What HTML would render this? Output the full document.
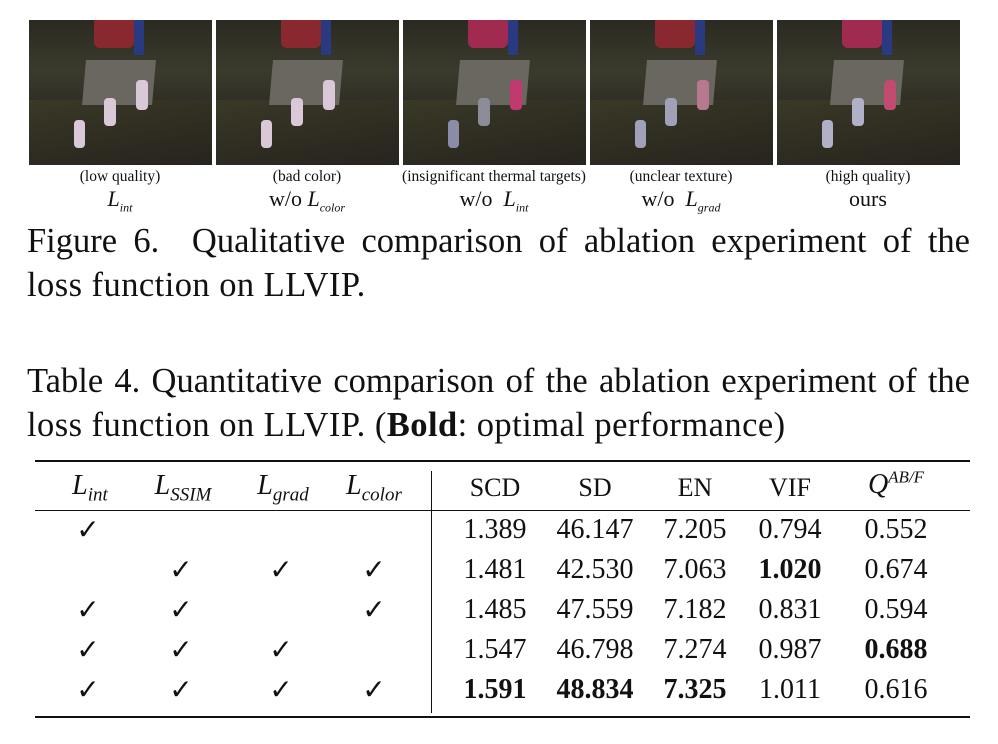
<!DOCTYPE html>
<html><head><meta charset="utf-8"><style>
body{margin:0;width:998px;height:744px;background:#fff;position:relative;overflow:hidden;font-family:"Liberation Serif",serif;color:#111}
.img{position:absolute;top:20px;width:183px;height:145px;background:linear-gradient(180deg,#2a2a22 0%,#3a3a2c 35%,#2f2d24 60%,#1e1e1a 100%);overflow:hidden}
.img .r{position:absolute;left:65px;top:0;width:40px;height:28px;background:#8a2830;border-radius:0 0 6px 6px}
.img .b{position:absolute;left:105px;top:0;width:10px;height:35px;background:#2a3a80}
.img .w{position:absolute;left:55px;top:40px;width:70px;height:45px;background:#6a6660;transform:skewX(-5deg)}
.img .p{position:absolute;background:#d8c8d8;border-radius:4px}
.img .s{position:absolute;left:0;top:80px;width:183px;height:65px;background:linear-gradient(170deg,#3a3826,#26241e)}
.c{position:absolute;top:168px;font-size:15.5px;text-align:center;width:200px;line-height:18px}
.c2{position:absolute;top:186px;font-size:22px;text-align:center;width:200px;line-height:26px}
.c2 i sub{font-size:12px}
.t{position:absolute;left:27px;font-size:34.5px;width:943px;text-align:justify;text-align-last:justify;line-height:44px;white-space:nowrap}
.t.l{text-align-last:left;letter-spacing:0.45px}
.cell{position:absolute;font-size:28px;transform:translateX(-50%);white-space:nowrap}
.ck{font-size:28px}
.hl{position:absolute;left:35px;width:935px;background:#111}
</style></head><body>
<div class="img" style="left:29px"><div class="s"></div><div class="r"></div><div class="b"></div><div class="w"></div><div class="p" style="left:107px;top:60px;width:12px;height:30px"></div><div class="p" style="left:75px;top:78px;width:12px;height:28px"></div><div class="p" style="left:45px;top:100px;width:11px;height:28px"></div></div>
<div class="img" style="left:216px"><div class="s"></div><div class="r"></div><div class="b"></div><div class="w"></div><div class="p" style="left:107px;top:60px;width:12px;height:30px"></div><div class="p" style="left:75px;top:78px;width:12px;height:28px"></div><div class="p" style="left:45px;top:100px;width:11px;height:28px"></div></div>
<div class="img" style="left:403px"><div class="s"></div><div class="r" style="background:#a02a50"></div><div class="b"></div><div class="w"></div><div class="p" style="left:107px;top:60px;width:12px;height:30px;background:#c03a70"></div><div class="p" style="left:75px;top:78px;width:12px;height:28px;background:#8a8c98"></div><div class="p" style="left:45px;top:100px;width:11px;height:28px;background:#8a8ca8"></div></div>
<div class="img" style="left:590px"><div class="s"></div><div class="r"></div><div class="b"></div><div class="w"></div><div class="p" style="left:107px;top:60px;width:12px;height:30px;background:#b87890"></div><div class="p" style="left:75px;top:78px;width:12px;height:28px;background:#a0a0b8"></div><div class="p" style="left:45px;top:100px;width:11px;height:28px;background:#a0a0b8"></div></div>
<div class="img" style="left:777px"><div class="s"></div><div class="r" style="background:#a02a50"></div><div class="b"></div><div class="w"></div><div class="p" style="left:107px;top:60px;width:12px;height:30px;background:#c04a70"></div><div class="p" style="left:75px;top:78px;width:12px;height:28px;background:#b0b0c8"></div><div class="p" style="left:45px;top:100px;width:11px;height:28px;background:#b0b0c8"></div></div>

<div class="c" style="left:20px">(low quality)</div>
<div class="c" style="left:207px">(bad color)</div>
<div class="c" style="left:394px">(insignificant thermal targets)</div>
<div class="c" style="left:581px">(unclear texture)</div>
<div class="c" style="left:768px">(high quality)</div>
<div class="c2" style="left:20px"><i>L<sub>int</sub></i></div>
<div class="c2" style="left:207px">w/o <i>L<sub>color</sub></i></div>
<div class="c2" style="left:394px">w/o &nbsp;<i>L<sub>int</sub></i></div>
<div class="c2" style="left:581px">w/o &nbsp;<i>L<sub>grad</sub></i></div>
<div class="c2" style="left:768px">ours</div>

<div class="t" style="top:219px">Figure 6.&nbsp; Qualitative comparison of ablation experiment of the</div>
<div class="t l" style="top:263px">loss function on LLVIP.</div>
<div class="t" style="top:359px">Table 4. Quantitative comparison of the ablation experiment of the</div>
<div class="t l" style="top:403px">loss function on LLVIP. (<b>Bold</b>: optimal performance)</div>

<div class="hl" style="top:460px;height:2px"></div>
<div class="hl" style="top:510px;height:1px"></div>
<div class="hl" style="top:716px;height:2px"></div>
<div style="position:absolute;left:431px;top:471px;width:1px;height:242px;background:#111"></div>

<div class="cell" style="left:90px;top:470px"><i>L<sub style="font-size:19px">int</sub></i></div>
<div class="cell" style="left:183px;top:470px"><i>L<sub style="font-size:19px">SSIM</sub></i></div>
<div class="cell" style="left:283px;top:470px"><i>L<sub style="font-size:19px">grad</sub></i></div>
<div class="cell" style="left:374px;top:470px"><i>L<sub style="font-size:19px">color</sub></i></div>
<div class="cell" style="left:495px;top:473px;font-size:26px">SCD</div>
<div class="cell" style="left:595px;top:473px;font-size:26px">SD</div>
<div class="cell" style="left:695px;top:473px;font-size:26px">EN</div>
<div class="cell" style="left:790px;top:473px;font-size:26px">VIF</div>
<div class="cell" style="left:896px;top:468px"><i>Q<sup style="font-size:17px">AB/F</sup></i></div>

<div class="cell ck" style="left:88px;top:513px">✓</div>
<div class="cell" style="left:495px;top:514px">1.389</div><div class="cell" style="left:595px;top:514px">46.147</div><div class="cell" style="left:695px;top:514px">7.205</div><div class="cell" style="left:790px;top:514px">0.794</div><div class="cell" style="left:896px;top:514px">0.552</div>

<div class="cell ck" style="left:181px;top:553px">✓</div><div class="cell ck" style="left:281px;top:553px">✓</div><div class="cell ck" style="left:374px;top:553px">✓</div>
<div class="cell" style="left:495px;top:554px">1.481</div><div class="cell" style="left:595px;top:554px">42.530</div><div class="cell" style="left:695px;top:554px">7.063</div><div class="cell" style="left:790px;top:554px"><b>1.020</b></div><div class="cell" style="left:896px;top:554px">0.674</div>

<div class="cell ck" style="left:88px;top:593px">✓</div><div class="cell ck" style="left:181px;top:593px">✓</div><div class="cell ck" style="left:374px;top:593px">✓</div>
<div class="cell" style="left:495px;top:594px">1.485</div><div class="cell" style="left:595px;top:594px">47.559</div><div class="cell" style="left:695px;top:594px">7.182</div><div class="cell" style="left:790px;top:594px">0.831</div><div class="cell" style="left:896px;top:594px">0.594</div>

<div class="cell ck" style="left:88px;top:633px">✓</div><div class="cell ck" style="left:181px;top:633px">✓</div><div class="cell ck" style="left:281px;top:633px">✓</div>
<div class="cell" style="left:495px;top:634px">1.547</div><div class="cell" style="left:595px;top:634px">46.798</div><div class="cell" style="left:695px;top:634px">7.274</div><div class="cell" style="left:790px;top:634px">0.987</div><div class="cell" style="left:896px;top:634px"><b>0.688</b></div>

<div class="cell ck" style="left:88px;top:673px">✓</div><div class="cell ck" style="left:181px;top:673px">✓</div><div class="cell ck" style="left:281px;top:673px">✓</div><div class="cell ck" style="left:374px;top:673px">✓</div>
<div class="cell" style="left:495px;top:674px"><b>1.591</b></div><div class="cell" style="left:595px;top:674px"><b>48.834</b></div><div class="cell" style="left:695px;top:674px"><b>7.325</b></div><div class="cell" style="left:790px;top:674px">1.011</div><div class="cell" style="left:896px;top:674px">0.616</div>
</body></html>
